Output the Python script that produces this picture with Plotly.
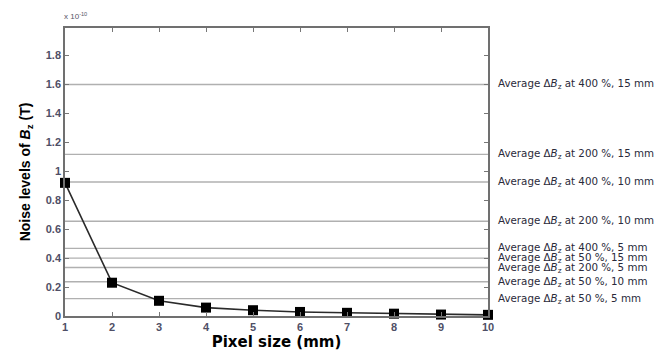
import plotly.graph_objects as go

# Data (noise values in units of 1e-10 T)
pixel_size = [1, 2, 3, 4, 5, 6, 7, 8, 9, 10]
noise_level = [0.92, 0.23, 0.105, 0.058, 0.04, 0.028, 0.022, 0.016, 0.01, 0.008]

ref_values = [1.60, 1.117, 0.926, 0.655, 0.467, 0.40, 0.335, 0.237, 0.12]
ref_labels = [
    "400 %, 15 mm", "200 %, 15 mm", "400 %, 10 mm", "200 %, 10 mm",
    "400 %, 5 mm", "50 %, 15 mm", "200 %, 5 mm", "50 %, 10 mm", "50 %, 5 mm",
]

y_ticks = [0, 0.2, 0.4, 0.6, 0.8, 1, 1.2, 1.4, 1.6, 1.8]
y_ticktext = ["0", "0.2", "0.4", "0.6", "0.8", "1", "1.2", "1.4", "1.6", "1.8"]
x_ticks = pixel_size
x_ticktext = [str(v) for v in pixel_size]

FONT = "Liberation Sans, Arial, sans-serif"
TICK_COLOR = "#4f4f66"

fig = go.Figure()

fig.add_trace(go.Scatter(
    x=pixel_size, y=noise_level, mode="lines+markers",
    line=dict(color="#2a2a2a", width=1.6),
    marker=dict(symbol="square", size=10, color="black"),
    showlegend=False, cliponaxis=False,
))

shapes = []
annotations = []
for v, lab in zip(ref_values, ref_labels):
    shapes.append(dict(type="line", xref="paper", yref="y", x0=0, x1=1, y0=v, y1=v,
                       line=dict(color="#b0b0b0", width=1.4), layer="below"))
    annotations.append(dict(xref="paper", yref="y", x=1, y=v, xshift=8,
                            xanchor="left", yanchor="middle", showarrow=False,
                            text="Average \u0394<i>B</i><sub>z</sub> at " + lab,
                            font=dict(family="DejaVu Sans, Verdana, sans-serif", size=10.3, color="#2a2a3a")))

annotations.append(dict(xref="paper", yref="paper", x=0, y=1, xshift=-3, yshift=5,
                        xanchor="left", yanchor="bottom", showarrow=False,
                        text="x 10<sup>-10</sup>",
                        font=dict(family=FONT, size=8, color="#555566")))

# the page body adds an 8px offset; the figure is sized so the plot lands where the reference has it
fig.update_layout(
    width=658, height=346,
    margin=dict(l=57, r=178, t=20, b=38),
    paper_bgcolor="white", plot_bgcolor="white",
    shapes=shapes, annotations=annotations,
    xaxis=dict(
        range=[1, 10], tickvals=x_ticks, ticktext=["<b>" + t + "</b>" for t in x_ticktext],
        ticks="inside", ticklen=4, automargin=False,
        tickcolor="#777777", showgrid=False, zeroline=False,
        showline=True, linecolor="#707070", linewidth=1.5, mirror="allticks",
        tickfont=dict(family=FONT, size=11, color=TICK_COLOR),
        title=dict(text="<b>Pixel size (mm)</b>", standoff=3,
                   font=dict(family="DejaVu Sans, Liberation Sans, Arial", size=15, color="black")),
    ),
    yaxis=dict(
        range=[0, 1.99], tickvals=y_ticks, ticktext=["<b>" + t + "</b>" for t in y_ticktext],
        ticks="inside", ticklen=4, automargin=False,
        tickcolor="#777777", showgrid=False, zeroline=False,
        showline=True, linecolor="#707070", linewidth=1.5, mirror="allticks",
        tickfont=dict(family=FONT, size=11, color=TICK_COLOR),
        title=dict(text="<b>Noise levels of <i>B</i><sub>z</sub> (T)</b>", standoff=12,
                   font=dict(family="Liberation Sans Narrow, Liberation Sans, Arial", size=14, color="black")),
    ),
)

fig.write_html("out.html")
